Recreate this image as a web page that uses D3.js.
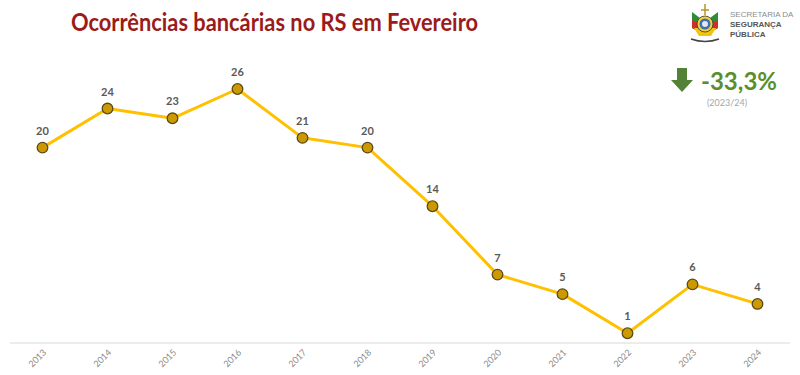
<!DOCTYPE html>
<html><head><meta charset="utf-8">
<script src="https://cdn.jsdelivr.net/npm/d3@7"></script>
<style>body{margin:0;background:#fff}svg{display:block}</style>
</head><body><svg id="c" width="800" height="375"></svg>
<script>
const years = ["2013","2014","2015","2016","2017","2018","2019","2020","2021","2022","2023","2024"];
const values = [20,24,23,26,21,20,14,7,5,1,6,4];
const title = "Ocorrências bancárias no RS em Fevereiro";
const changeText = "-33,3%";
const changePeriod = "(2023/24)";
const logoLines = ["SECRETARIA DA","SEGURANÇA","PÚBLICA"];

const svg = d3.select("#c");
const x = d3.scalePoint().domain(years).range([42.5, 757.5]);
const y = d3.scaleLinear().domain([0, 26]).range([343, 89]);

// title
svg.append("text").attr("x", 71).attr("y", 31).text(title)
  .attr("font-family", "Lato, 'Open Sans', sans-serif").attr("font-weight", "bold")
  .attr("font-size", 24).attr("fill", "#9b1b1b").attr("textLength", 407).attr("lengthAdjust","spacingAndGlyphs");

// axis
const axis = svg.append("g").attr("transform", "translate(0,343)")
  .call(d3.axisBottom(x).tickSize(0).tickPadding(0));
axis.select(".domain").attr("d", "M10,0H790").attr("stroke", "#d9d9d9").attr("stroke-width", 1);
axis.selectAll("text")
  .attr("font-family", "Lato, 'Open Sans', sans-serif").attr("font-size", 9).attr("fill", "#8c8c8c")
  .attr("text-anchor", "end").attr("dy", null).attr("y", 0)
  .attr("transform", "translate(4,10) rotate(-45)");

// line
const line = d3.line().x((d,i)=>x(years[i])).y(d=>y(d));
svg.append("path").datum(values).attr("d", line).attr("fill", "none")
  .attr("stroke", "#ffc000").attr("stroke-width", 3).attr("stroke-linejoin", "round");

// markers
svg.selectAll("circle.pt").data(values).join("circle").attr("class","pt")
  .attr("cx", (d,i)=>x(years[i])).attr("cy", d=>y(d)).attr("r", 5.3)
  .attr("fill", "#cc9a00").attr("stroke", "#5a4a1a").attr("stroke-width", 1.3);

// labels
svg.selectAll("text.lbl").data(values).join("text").attr("class","lbl")
  .attr("x", (d,i)=>x(years[i])).attr("y", d=>y(d) - 13)
  .attr("text-anchor", "middle").text(d=>d)
  .attr("font-family", "Lato, 'Open Sans', sans-serif").attr("font-weight", "bold")
  .attr("font-size", 11).attr("fill", "#595959");

// change indicator
svg.append("path").attr("d", "M677,68H687V80H693L682,92L671,80H677Z").attr("fill", "#538135");
svg.append("text").attr("x", 701).attr("y", 90).text(changeText)
  .attr("font-family", "Lato, 'Open Sans', sans-serif").attr("font-weight", "bold")
  .attr("font-size", 24).attr("fill", "#5b8f2e");
svg.append("text").attr("x", 727).attr("y", 106).text(changePeriod).attr("text-anchor","middle")
  .attr("font-family", "Lato, 'Open Sans', sans-serif")
  .attr("font-size", 9).attr("fill", "#a6a6a6");

// logo (simplified coat of arms)
const lg = svg.append("g").attr("transform", "translate(705,24)");
lg.append("path").attr("d","M-13,-12 L-5,-6 L-5,8 L-13,4Z").attr("fill","#2e8b3a");
lg.append("path").attr("d","M13,-12 L5,-6 L5,8 L13,4Z").attr("fill","#2e8b3a");
lg.append("path").attr("d","M-13,-4 L-5,0 L-5,8 L-13,4Z").attr("fill","#d62b2b");
lg.append("path").attr("d","M13,-4 L5,0 L5,8 L13,4Z").attr("fill","#d62b2b");
lg.append("path").attr("d","M-11,4 L11,4 L6,12 L-6,12Z").attr("fill","#f1c40f");
lg.append("circle").attr("r", 8).attr("fill","#f5d23a").attr("stroke","#333").attr("stroke-width",0.8);
lg.append("circle").attr("r", 5.5).attr("fill","#3b6fb6");
lg.append("circle").attr("r", 3).attr("fill","#e8e8e8");
lg.append("path").attr("d","M0,-20 L0,-9 M-4,-14 L4,-14").attr("stroke","#b8962e").attr("stroke-width",1.5);
lg.append("path").attr("d","M-14,15 Q0,20 14,15").attr("stroke","#444").attr("stroke-width",1.5).attr("fill","none");
logoLines.forEach((t,i)=>{
  svg.append("text").attr("x", 730).attr("y", 17 + i*10).text(t)
    .attr("font-family", "'Liberation Sans', Arial, sans-serif")
    .attr("font-weight", i===0 ? "normal" : "bold")
    .attr("font-size", 8).attr("fill", i===0 ? "#8c8c8c" : "#555");
});
</script></body></html>
